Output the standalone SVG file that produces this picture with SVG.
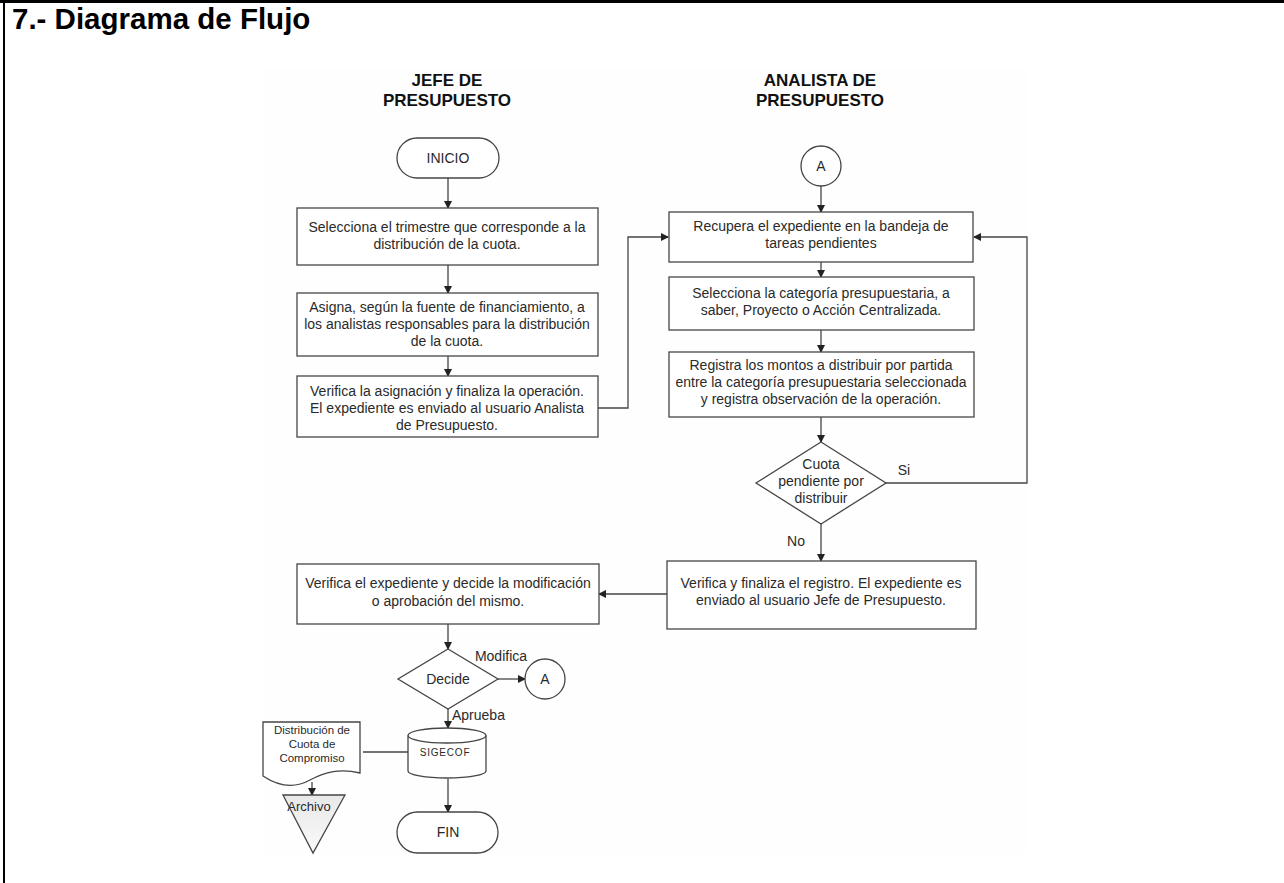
<svg xmlns="http://www.w3.org/2000/svg" width="1284" height="883" viewBox="0 0 1284 883">
<style>
.t{font-family:"Liberation Sans",Arial,sans-serif;fill:#2a2a2a;font-size:14px;text-anchor:middle}
.h{font-family:"Liberation Sans",Arial,sans-serif;fill:#111;font-size:17px;font-weight:bold;text-anchor:middle}
.s{fill:#fff;stroke:#454545;stroke-width:1.3}
.c{fill:none;stroke:#454545;stroke-width:1.3}
</style>
<defs>
<marker id="ar" markerWidth="8" markerHeight="8" refX="7" refY="4" orient="auto" markerUnits="userSpaceOnUse">
<path d="M0,0 L8,4 L0,8 Z" fill="#222"/>
</marker>
<linearGradient id="tri" x1="0" y1="0" x2="0" y2="1"><stop offset="0" stop-color="#e8e8e8"/><stop offset="1" stop-color="#fafafa"/></linearGradient>
</defs>
<rect x="0" y="0" width="1284" height="883" fill="#fff"/>
<rect x="262" y="68" width="765" height="786" fill="#fefefe"/>
<g id="frame">
<rect x="0" y="0" width="1284" height="3" fill="#000"/>
<rect x="3" y="0" width="2" height="883" fill="#000"/>
<text x="12" y="29" style="font-family:'Liberation Sans',Arial,sans-serif;font-size:29.5px;font-weight:bold;fill:#000">7.- Diagrama de Flujo</text>
</g>
<g id="lane-jefe"><text class="h" x="447" y="86">JEFE DE</text><text class="h" x="447" y="106">PRESUPUESTO</text></g>
<g id="lane-analista"><text class="h" x="820" y="86">ANALISTA DE</text><text class="h" x="820" y="106">PRESUPUESTO</text></g>

<g id="connectors">
<line class="c" x1="448" y1="178" x2="448" y2="208" marker-end="url(#ar)"/>
<line class="c" x1="448" y1="265" x2="448" y2="293" marker-end="url(#ar)"/>
<line class="c" x1="448" y1="356" x2="448" y2="376" marker-end="url(#ar)"/>
<polyline class="c" points="598,408 628,408 628,237 668,237" marker-end="url(#ar)"/>
<line class="c" x1="821" y1="186" x2="821" y2="212" marker-end="url(#ar)"/>
<line class="c" x1="821" y1="262" x2="821" y2="277" marker-end="url(#ar)"/>
<line class="c" x1="821" y1="330" x2="821" y2="352" marker-end="url(#ar)"/>
<line class="c" x1="821" y1="417" x2="821" y2="442" marker-end="url(#ar)"/>
<polyline class="c" points="886,483 1027,483 1027,237 974,237" marker-end="url(#ar)"/>
<line class="c" x1="821" y1="524" x2="821" y2="561" marker-end="url(#ar)"/>
<line class="c" x1="667" y1="594" x2="599" y2="594" marker-end="url(#ar)"/>
<line class="c" x1="448" y1="624" x2="448" y2="649" marker-end="url(#ar)"/>
<line class="c" x1="498" y1="679" x2="525" y2="679" marker-end="url(#ar)"/>
<line class="c" x1="448" y1="709" x2="448" y2="728" marker-end="url(#ar)"/>
<line class="c" x1="448" y1="779" x2="448" y2="812" marker-end="url(#ar)"/>
<line class="c" x1="363" y1="752" x2="408" y2="752"/>
<line class="c" x1="312" y1="782" x2="312" y2="795" marker-end="url(#ar)"/>
<text class="t" x="904" y="475">Si</text>
<text class="t" x="796" y="546">No</text>
<text class="t" x="501" y="661">Modifica</text>
<text class="t" x="452" y="720" style="text-anchor:start">Aprueba</text>
</g>

<g id="inicio"><rect class="s" x="397" y="138" width="102" height="40" rx="20"/><text class="t" x="448" y="163">INICIO</text></g>
<g id="l1"><rect class="s" x="297" y="208" width="301" height="57"/><text class="t" x="447" y="232">Selecciona el trimestre que corresponde a la</text><text class="t" x="447" y="249">distribución de la cuota.</text></g>
<g id="l2"><rect class="s" x="297" y="293" width="301" height="63"/><text class="t" x="447" y="312">Asigna, según la fuente de financiamiento, a</text><text class="t" x="447" y="329">los analistas responsables para la distribución</text><text class="t" x="447" y="346">de la cuota.</text></g>
<g id="l3"><rect class="s" x="297" y="376" width="301" height="61"/><text class="t" x="447" y="396">Verifica la asignación y finaliza la operación.</text><text class="t" x="447" y="413">El expediente es enviado al usuario Analista</text><text class="t" x="447" y="430">de Presupuesto.</text></g>

<g id="a1"><circle class="s" cx="821" cy="166" r="20"/><text class="t" x="821" y="171">A</text></g>
<g id="r1"><rect class="s" x="669" y="212" width="304" height="50"/><text class="t" x="821" y="231">Recupera el expediente en la bandeja de</text><text class="t" x="821" y="248">tareas pendientes</text></g>
<g id="r2"><rect class="s" x="669" y="277" width="305" height="53"/><text class="t" x="821" y="298">Selecciona la categoría presupuestaria, a</text><text class="t" x="821" y="315">saber, Proyecto o Acción Centralizada.</text></g>
<g id="r3"><rect class="s" x="669" y="352" width="305" height="65"/><text class="t" x="821" y="370">Registra los montos a distribuir por partida</text><text class="t" x="821" y="387">entre la categoría presupuestaria seleccionada</text><text class="t" x="821" y="404">y registra observación de la operación.</text></g>
<g id="d1"><polygon class="s" points="821,442 886,483 821,524 756,483"/><text class="t" x="821" y="469">Cuota</text><text class="t" x="821" y="486">pendiente por</text><text class="t" x="821" y="503">distribuir</text></g>
<g id="r4"><rect class="s" x="667" y="561" width="309" height="68"/><text class="t" x="821" y="588">Verifica y finaliza el registro. El expediente es</text><text class="t" x="821" y="605">enviado al usuario Jefe de Presupuesto.</text></g>

<g id="l4"><rect class="s" x="297" y="564" width="302" height="60"/><text class="t" x="448" y="588">Verifica el expediente y decide la modificación</text><text class="t" x="448" y="606">o aprobación del mismo.</text></g>
<g id="d2"><polygon class="s" points="448,649 498,679 448,709 398,679"/><text class="t" x="448" y="684">Decide</text></g>
<g id="a2"><circle class="s" cx="545" cy="679" r="20"/><text class="t" x="545" y="684">A</text></g>
<g id="sigecof"><path class="s" d="M408,735.5 L408,771 A39,7 0 0 0 486,771 L486,735.5 A39,7.5 0 0 0 408,735.5 Z"/><path class="c" d="M408,735.5 A39,7.5 0 0 0 486,735.5"/><text class="t" x="445" y="756" style="font-size:10px;letter-spacing:0.8px">SIGECOF</text></g>
<g id="fin"><rect class="s" x="397" y="812" width="101" height="41" rx="20.5"/><text class="t" x="448" y="837">FIN</text></g>
<g id="doc"><path class="s" d="M263,722 L360,722 L360,773 C340,768 325,772 310,780 C292,790 275,784 263,776 Z"/><text class="t" x="312" y="734" style="font-size:11.5px">Distribución de</text><text class="t" x="312" y="748" style="font-size:11.5px">Cuota de</text><text class="t" x="312" y="762" style="font-size:11.5px">Compromiso</text></g>
<g id="archivo"><polygon points="283,795 345,795 313,853" fill="url(#tri)" stroke="#454545" stroke-width="1.3"/><text class="t" x="309" y="811" style="font-size:13px">Archivo</text></g>
</svg>
